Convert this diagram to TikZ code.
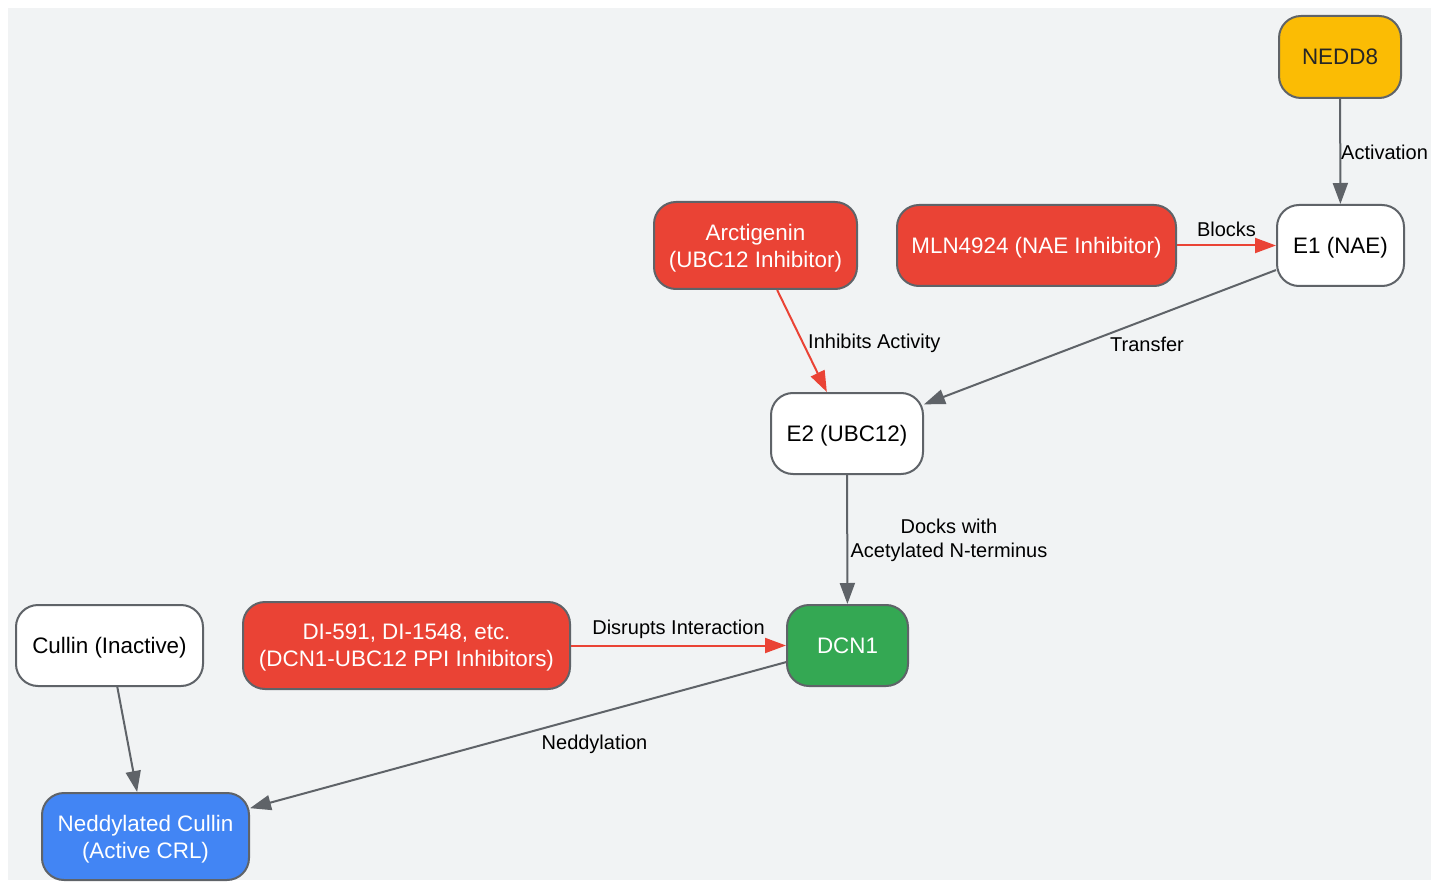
\documentclass[tikz,border=0pt]{standalone}
\usepackage{fontspec}
\setmainfont{Liberation Sans}
\usetikzlibrary{arrows.meta}
\definecolor{bgc}{HTML}{F1F3F4}
\definecolor{bordc}{HTML}{5F6368}
\definecolor{redc}{HTML}{EA4335}
\definecolor{greenc}{HTML}{34A853}
\definecolor{bluec}{HTML}{4285F4}
\definecolor{yellowc}{HTML}{FBBC04}
\tikzset{
  box/.style={draw=bordc, line width=2pt, rounded corners=22pt, align=center,
    font=\fontsize{22.4}{27}\selectfont, inner sep=0pt, text depth=0pt},
  whitebox/.style={box, fill=white, text=black},
  redbox/.style={box, fill=redc, text=white},
  greenbox/.style={box, fill=greenc, text=white},
  bluebox/.style={box, fill=bluec, text=white},
  yellowbox/.style={box, fill=yellowc, text=black!85},
  grayedge/.style={draw=bordc, line width=2pt, -{Triangle[length=21pt,width=15pt]}},
  rededge/.style={draw=redc, line width=2pt, -{Triangle[length=21pt,width=15pt]}},
  lbl/.style={font=\fontsize{20}{24}\selectfont, text=black, inner sep=0pt, align=center}
}
\begin{document}
\begin{tikzpicture}[x=1pt,y=-1pt]
\useasboundingbox (0,0) rectangle (1431,882);
\fill[bgc] (8,8) rectangle (1431,880);
% nodes
\node[yellowbox, minimum width=122pt, minimum height=82pt] (nedd) at (1340,57) {NEDD8};
\node[whitebox, minimum width=127pt, minimum height=81pt] (e1) at (1340.5,245.5) {E1 (NAE)};
\node[redbox, minimum width=279pt, minimum height=81pt] (mln) at (1036.5,245.5) {MLN4924 (NAE Inhibitor)};
\node[redbox, minimum width=203pt, minimum height=87pt] (arc) at (755.5,245.5) {Arctigenin\\(UBC12 Inhibitor)};
\node[whitebox, minimum width=152pt, minimum height=81pt] (e2) at (847,433.5) {E2 (UBC12)};
\node[greenbox, minimum width=121pt, minimum height=81pt] (dcn) at (847.5,645.5) {DCN1};
\node[redbox, minimum width=327pt, minimum height=87pt] (di) at (406.5,645.5) {DI-591, DI-1548, etc.\\(DCN1-UBC12 PPI Inhibitors)};
\node[whitebox, minimum width=187pt, minimum height=81pt] (cul) at (109.5,645.5) {Cullin (Inactive)};
\node[bluebox, minimum width=207pt, minimum height=87pt] (ned) at (145.5,836.5) {Neddylated Cullin\\(Active CRL)};
% edges
\draw[grayedge] (nedd) -- (e1);
\draw[rededge] (mln) -- (e1);
\draw[grayedge] (e1) -- (e2);
\draw[rededge] (arc) -- (e2);
\draw[grayedge] (e2) -- (dcn);
\draw[rededge] (di) -- (dcn);
\draw[grayedge] (dcn) -- (ned);
\draw[grayedge] (cul) -- (ned);
% labels
\node[lbl, anchor=west] (l1) at (1341,152.5) {Activation};
\node[lbl] (l2) at (1226.5,229.5) {Blocks};
\node[lbl] (l3) at (1147,344) {Transfer};
\node[lbl, anchor=west] (l4) at (808,343.5) {Inhibits Activity};
\node[lbl] (l5) at (949,540.5) {Docks with\\Acetylated N-terminus};
\node[lbl] (l6) at (678.5,629.5) {Disrupts Interaction};
\node[lbl] (l7) at (594.5,744) {Neddylation};
\end{tikzpicture}
\end{document}
